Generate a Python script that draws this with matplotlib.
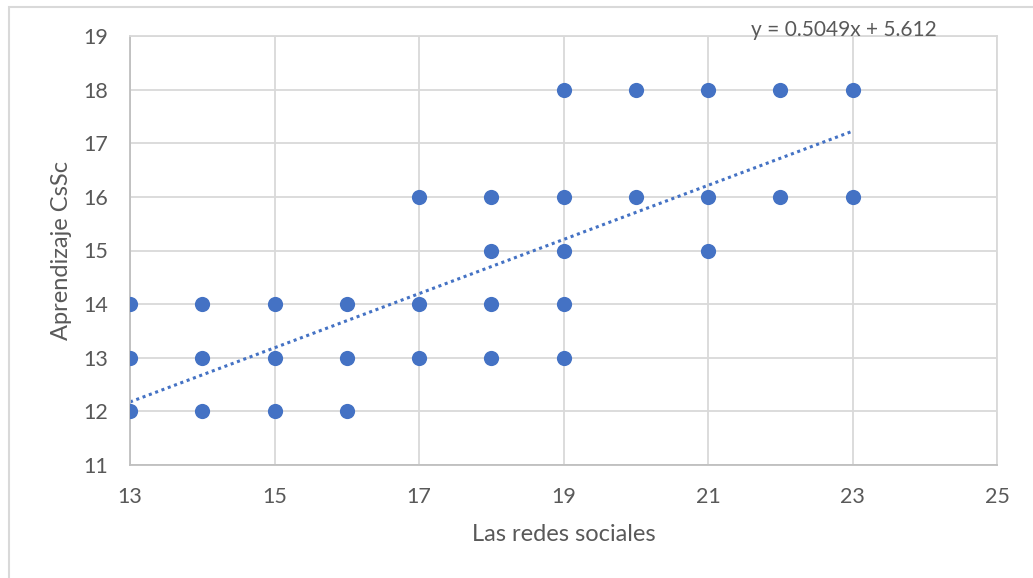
import numpy as np
import matplotlib.pyplot as plt
from matplotlib.patches import Rectangle

# scatter data (Las redes sociales vs Aprendizaje CsSc)
redes = [13, 13, 13, 14, 14, 14, 15, 15, 15, 16, 16, 16,
         17, 17, 17, 18, 18, 18, 18, 19, 19, 19, 19, 19,
         20, 20, 21, 21, 21, 22, 22, 23, 23]
aprendizaje = [14, 13, 12, 14, 13, 12, 14, 13, 12, 14, 13, 12,
               16, 14, 13, 16, 15, 14, 13, 18, 16, 15, 14, 13,
               18, 16, 18, 16, 15, 18, 16, 18, 16]
slope = 0.5049
intercept = 5.612
x_ticks = [13, 15, 17, 19, 21, 23, 25]
y_ticks = [11, 12, 13, 14, 15, 16, 17, 18, 19]

plt.rcParams['font.family'] = ['Lato', 'DejaVu Sans']
txt = '#595959'
blue = '#4472C4'

fig = plt.figure(figsize=(10.33, 5.78), dpi=100)
fig.patches.append(Rectangle((9 / 1033, -0.1), 1.2, 1.1 - 7 / 578,
                             transform=fig.transFigure, fill=False,
                             edgecolor='#d9d9d9', linewidth=1.5))
ax = fig.add_axes([130 / 1033, 1 - 465 / 578, 867 / 1033, 429 / 578])

ax.scatter(redes, aprendizaje, s=120, color=blue, zorder=3, linewidths=0)

xs = np.array([min(redes), max(redes)])
ax.plot(xs, slope * xs + intercept, linestyle=(0, (1, 1.2)), color=blue,
        linewidth=2.2, zorder=2)

ax.set_xlim(13, 25)
ax.set_ylim(11, 19)
ax.set_xticks(x_ticks)
ax.set_yticks(y_ticks)
ax.grid(True, color='#d9d9d9', linewidth=1.3)
ax.set_axisbelow(True)
for s in ['top', 'right']:
    ax.spines[s].set_color('#d9d9d9')
    ax.spines[s].set_linewidth(1.3)
for s in ['left', 'bottom']:
    ax.spines[s].set_color('#bfbfbf')
    ax.spines[s].set_linewidth(1.3)
ax.tick_params(length=0, labelsize=15.5, colors=txt, pad=16)
ax.tick_params(axis='y', pad=16)

ax.set_xlabel('Las redes sociales', fontsize=17, color=txt, labelpad=12)
ax.set_ylabel('Aprendizaje CsSc', fontsize=17, color=txt, labelpad=8)

ax.text(844 / 1033, 1 - 30 / 578, 'y = 0.5049x + 5.612', transform=fig.transFigure,
        ha='center', va='center', fontsize=15, color=txt)

fig.savefig('out.png', dpi=100)
